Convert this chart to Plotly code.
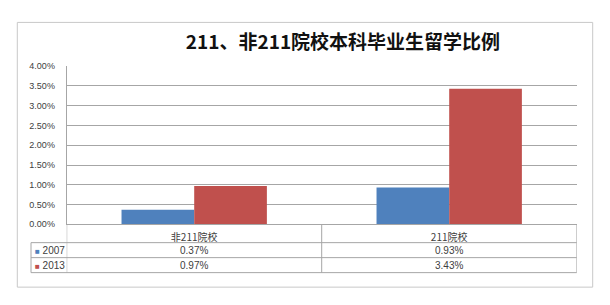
import plotly.graph_objects as go

categories = ["非211院校", "211院校"]
series_names = ["2007", "2013"]
values_2007 = [0.0037, 0.0093]
values_2013 = [0.0097, 0.0343]
colors = ["#4F81BD", "#C0504D"]
title_text = "211、非211院校本科毕业生留学比例"

W, H = 610, 305
def fx(px): return px / W
def fy(py): return 1 - py / H

num_font = "Liberation Sans, Noto Sans CJK SC, sans-serif"
cjk_font = "Noto Sans CJK SC, Liberation Sans, sans-serif"
grid = "#A6A6A6"
txt = "#404040"

series_values = [values_2007, values_2013]

fig = go.Figure()
for name, vals, col in zip(series_names, series_values, colors):
    fig.add_trace(go.Bar(x=categories, y=vals, name=name, marker=dict(color=col, line=dict(width=0)),
                         showlegend=False))

fmt = lambda v: f"{v*100:.2f}%"

# ---- data table under the chart (Excel style) ----
x_left, x_right = 66.7, 576.7
plot_bottom = 226.7
header_h, row_h = 19, 15.5
table_left = 31
row_lines = [plot_bottom + header_h + row_h * k for k in range(3)]
table_bottom = row_lines[-1]
n = len(categories)

line_style = dict(color=grid, width=1)
shapes = [dict(type="rect", xref="paper", yref="paper",
               x0=fx(17.3), x1=fx(592.7), y0=fy(291.7), y1=fy(18),
               line=dict(color="#C8C8C8", width=1), fillcolor="rgba(0,0,0,0)", layer="below")]
for yl in row_lines:
    shapes.append(dict(type="line", xref="paper", yref="paper",
                       x0=fx(table_left), x1=fx(x_right), y0=fy(yl), y1=fy(yl), line=line_style))
for k in range(n + 1):
    shapes.append(dict(type="line", xref="x", yref="paper",
                       x0=k - 0.5, x1=k - 0.5, y0=fy(plot_bottom), y1=fy(table_bottom), line=line_style))
shapes.append(dict(type="line", xref="paper", yref="paper",
                   x0=fx(table_left), x1=fx(table_left), y0=fy(row_lines[0]), y1=fy(table_bottom),
                   line=line_style))

annotations = []
for i, (name, vals, col) in enumerate(zip(series_names, series_values, colors)):
    cy = row_lines[i] + row_h / 2
    annotations.append(dict(text=f"<span style='color:{col};font-size:8px'>■</span>\u00a0{name}",
                            x=fx(33), y=fy(cy), xref="paper", yref="paper",
                            xanchor="left", yanchor="middle", showarrow=False,
                            font=dict(family=num_font, size=10, color=txt)))
    for c, v in zip(categories, vals):
        annotations.append(dict(text=fmt(v), x=c, y=fy(cy), xref="x", yref="paper",
                                xanchor="center", yanchor="middle", showarrow=False,
                                font=dict(family=num_font, size=10, color=txt)))

fig.update_layout(
    width=W, height=H,
    margin=dict(l=0, r=0, t=0, b=0),
    paper_bgcolor="white", plot_bgcolor="white",
    barmode="group", bargap=0.43, bargroupgap=0,
    title=dict(text="<b>" + title_text + "</b>", x=fx(343), y=fy(42),
               xanchor="center", yanchor="middle",
               font=dict(family=cjk_font, size=19, color="#111111")),
    xaxis=dict(domain=[fx(x_left), fx(x_right)], range=[-0.5, n - 0.5],
               showgrid=False, zeroline=False, showline=True, linecolor=grid, linewidth=1,
               ticks="", ticklabelstandoff=4,
               tickfont=dict(family=cjk_font, size=10, color=txt)),
    yaxis=dict(domain=[fy(plot_bottom), fy(63.3)], range=[0, 0.04], dtick=0.005, tickformat=".2%",
               showgrid=True, gridcolor=grid, gridwidth=1, zeroline=False,
               showline=True, linecolor=grid, linewidth=1, ticks="",
               ticklabelstandoff=9,
               tickfont=dict(family=num_font, size=9, color=txt)),
    annotations=annotations,
    shapes=shapes,
)

fig.write_html("out.html")
